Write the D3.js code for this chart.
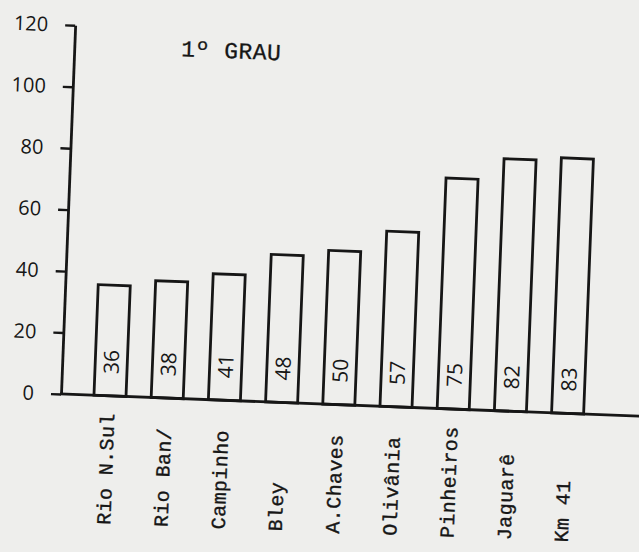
<!DOCTYPE html>
<html><head><meta charset="utf-8">
<script src="https://cdn.jsdelivr.net/npm/d3@7/dist/d3.min.js"></script>
<style>html,body{margin:0;padding:0;background:#eeeeec;} svg{display:block}</style>
</head><body>
<svg id="chart" width="639" height="552"></svg>
<script>
// ---- data ----
const categories = ["Rio N.Sul", "Rio Ban/", "Campinho", "Bley", "A.Chaves", "Olivânia", "Pinheiros", "Jaguarê", "Km 41"];
const values = [36, 38, 41, 48, 50, 57, 75, 82, 83];
const yTicks = [0, 20, 40, 60, 80, 100, 120];
const title = "1º GRAU";

// ---- layout ----
const W = 639, H = 552;
const ox = 61, oy = 394;       // chart origin (axis corner)
const ink = "#161616";
const bg = "#eeeeec";

const svg = d3.select("#chart");
svg.append("rect").attr("width", W).attr("height", H).attr("fill", bg);

// the scanned page is slightly skewed
const g = svg.append("g").attr("transform", `rotate(2.2, ${ox}, ${oy})`);

const y = d3.scaleLinear().domain([0, 120]).range([oy, 25]);
const x = d3.scaleBand().domain(categories).range([94, 584]).paddingInner(0.44).paddingOuter(0);

// bars (open outlines)
g.selectAll("rect.bar").data(values).join("rect")
  .attr("class", "bar")
  .attr("x", (d, i) => x(categories[i]))
  .attr("y", d => y(d))
  .attr("width", x.bandwidth())
  .attr("height", d => y(0) - y(d))
  .attr("fill", "none")
  .attr("stroke", ink)
  .attr("stroke-width", 2.8);

// value labels inside bars
g.selectAll("text.val").data(values).join("text")
  .attr("class", "val")
  .attr("transform", (d, i) => `translate(${x(categories[i]) + x.bandwidth() / 2}, ${oy - 22}) rotate(-90)`)
  .attr("text-anchor", "start")
  .attr("dy", "0.36em")
  .attr("font-family", "'Open Sans', sans-serif")
  .attr("font-size", 21)
  .attr("fill", ink)
  .text(d => d);

// y axis
const yAxis = d3.axisLeft(y).tickValues(yTicks).tickSize(10).tickSizeOuter(0).tickPadding(17);
const ay = g.append("g").attr("transform", `translate(${ox},0)`).call(yAxis);
ay.select(".domain").attr("stroke", ink).attr("stroke-width", 2.8);
ay.selectAll(".tick line").attr("stroke", ink).attr("stroke-width", 2.4);
ay.selectAll(".tick text")
  .attr("font-family", "'Open Sans', sans-serif")
  .attr("font-size", 20)
  .attr("fill", ink);

// x axis baseline
const xAxis = d3.axisBottom(x).tickSize(0).tickFormat("");
const ax = g.append("g").attr("transform", `translate(0,${oy})`).call(xAxis);
ax.select(".domain").attr("d", `M${ox - 1},0H${ox + 640}`).attr("stroke", ink).attr("stroke-width", 2.8);

// category labels (rotated, reading upward)
g.selectAll("text.cat").data(categories).join("text")
  .attr("class", "cat")
  .attr("transform", d => `translate(${x(d) + x.bandwidth() / 2 - 2}, ${oy + 129}) rotate(-90)`)
  .attr("text-anchor", "start")
  .attr("dy", "0.36em")
  .attr("font-family", "'Liberation Mono', 'Courier New', monospace")
  .attr("font-size", 20)
  .attr("letter-spacing", 0.4)
  .attr("fill", ink)
  .attr("stroke", ink)
  .attr("stroke-width", 0.35)
  .text(d => d);

// title
g.append("text")
  .attr("x", 168).attr("y", 52)
  .attr("font-family", "'Liberation Mono', 'Courier New', monospace")
  .attr("font-size", 23)
  .attr("letter-spacing", 0.5)
  .attr("fill", ink)
  .attr("stroke", ink)
  .attr("stroke-width", 0.3)
  .text(title);
</script>
</body></html>
